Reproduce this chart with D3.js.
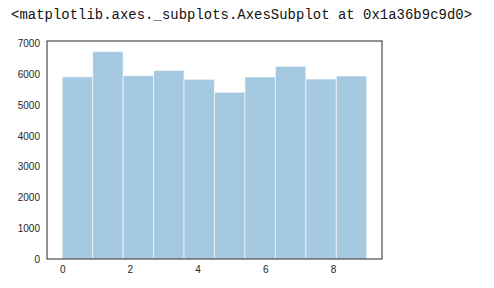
<!DOCTYPE html>
<html>
<head>
<meta charset="utf-8">
<script src="https://cdn.jsdelivr.net/npm/d3@7.9.0/dist/d3.min.js"></script>
<style>
  body { margin: 0; background: #fff; }
  .tick text { font-family: "Liberation Sans", Arial, sans-serif; font-size: 10px; fill: #262626; }
</style>
</head>
<body>
<svg id="chart" width="494" height="288"></svg>
<script>
// digit histogram (10 bins over 0..9)
const binStarts = [0, 0.9, 1.8, 2.7, 3.6, 4.5, 5.4, 6.3, 7.2, 8.1];
const counts = [5923, 6742, 5958, 6131, 5842, 5421, 5918, 6265, 5851, 5949];
const xTicks = [0, 2, 4, 6, 8];
const yTicks = [0, 1000, 2000, 3000, 4000, 5000, 6000, 7000];
const binWidth = 0.9;

const svg = d3.select("#chart");

svg.append("text")
    .attr("x", 11)
    .attr("y", 19)
    .attr("font-family", "Liberation Mono, Courier New, monospace")
    .attr("font-size", "13.9px")
    .attr("fill", "#111")
    .attr("textLength", 461)
    .text("<matplotlib.axes._subplots.AxesSubplot at 0x1a36b9c9d0>");

const plotLeft = 47, plotRight = 382, plotTop = 41, plotBottom = 259;

let x = d3.scaleLinear().domain([-0.45, 9.45]).range([plotLeft, plotRight]);
let y = d3.scaleLinear().domain([0, 7087]).range([plotBottom, plotTop]);

svg.selectAll("rect.bar")
    .data(counts)
    .join("rect")
    .attr("class", "bar")
    .attr("x", (d, i) => x(binStarts[i]))
    .attr("width", (d, i) => x(binStarts[i] + binWidth) - x(binStarts[i]))
    .attr("y", d => y(d))
    .attr("height", d => y(0) - y(d))
    .attr("fill", "#1f77b4")
    .attr("fill-opacity", 0.4)
    .attr("stroke", "#fff")
    .attr("stroke-opacity", 0.6)
    .attr("stroke-width", 1);

let xAxis = svg.append("g")
    .attr("transform", `translate(0,${plotBottom})`)
    .call(d3.axisBottom(x).tickValues(xTicks).tickSize(0).tickPadding(7));
xAxis.select(".domain").remove();

let yAxis = svg.append("g")
    .attr("transform", `translate(${plotLeft},0)`)
    .call(d3.axisLeft(y).tickValues(yTicks).tickFormat(d3.format("d")).tickSize(0).tickPadding(7));
yAxis.select(".domain").remove();

// frame
svg.append("rect")
    .attr("x", plotLeft)
    .attr("y", plotTop)
    .attr("width", plotRight - plotLeft)
    .attr("height", plotBottom - plotTop)
    .attr("fill", "none")
    .attr("stroke", "#262626")
    .attr("stroke-width", 1);
</script>
</body>
</html>
